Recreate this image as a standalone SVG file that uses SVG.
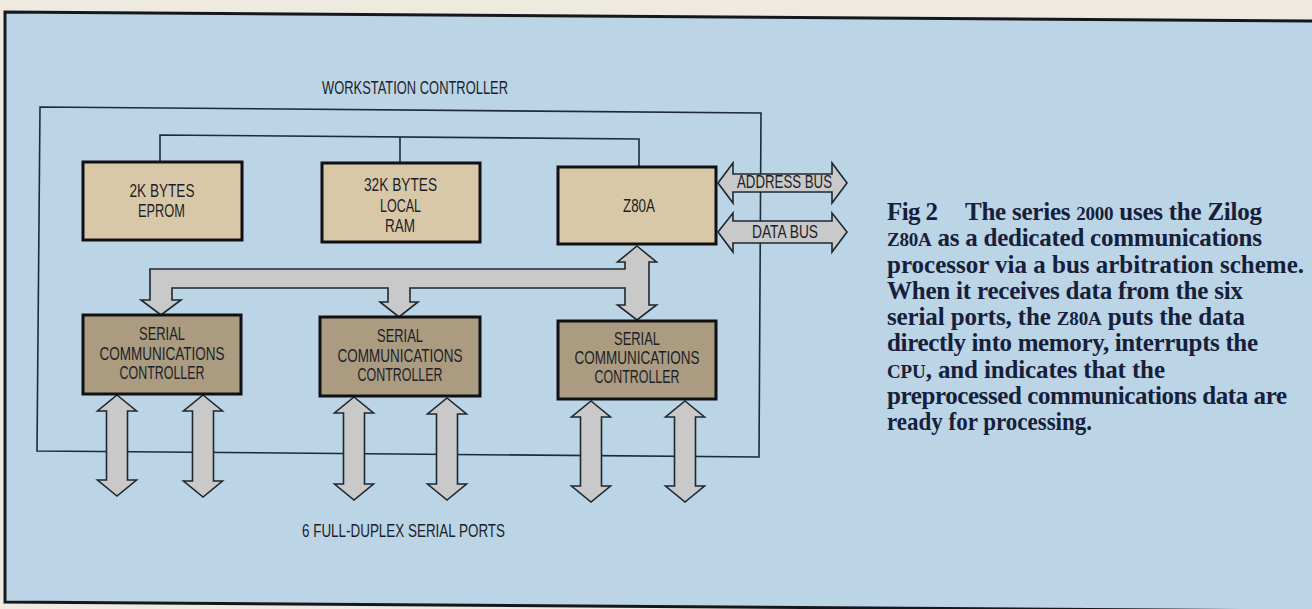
<svg xmlns="http://www.w3.org/2000/svg" width="1312" height="609" viewBox="0 0 1312 609">
  <style>
    .lbl { font-family: "Liberation Sans Narrow", "Liberation Sans", Arial, sans-serif; font-size: 18px; fill: #1c1e28; text-anchor: middle; }
    .cap { font-family: "Liberation Serif", "Times New Roman", serif; font-size: 25px; font-weight: bold; fill: #17203a; }
    .sc { font-size: 19px; }
    .wire { fill: none; stroke: #1d2b38; stroke-width: 1.6; }
    .boxA { fill: #d9c8a8; stroke: #111114; stroke-width: 3; }
    .boxB { fill: #aa9b81; stroke: #111114; stroke-width: 3; }
    .arrow { fill: #c9c9c9; stroke: #1d2830; stroke-width: 1.6; stroke-linejoin: miter; }
  </style>

  <!-- page background -->
  <rect x="0" y="0" width="1312" height="609" fill="#efeadf"/>
  <!-- blue panel -->
  <polygon points="5,12 1312,21 1312,611 5,602" fill="#bbd4e6"/>
  <polyline points="1312,21 5,12 5,602 1312,611" fill="none" stroke="#14181e" stroke-width="3"/>

  <!-- connectors -->
  <g id="connectors">
    <polygon class="wire" points="40,107 761,113 759,457 37,451"/>
    <polyline class="wire" points="160,162 160,135 639,139 639,167"/>
    <line class="wire" x1="400" y1="137" x2="400" y2="163"/>

    <!-- address bus -->
    <polygon class="arrow" points="718,183 733,163 733,174 832,174 832,163 847,183 832,203 832,192 733,192 733,203"/>
    <!-- data bus -->
    <polygon class="arrow" points="718,232 733,213 733,221 832,221 832,213 847,232 832,252 832,243 733,243 733,252"/>

    <!-- internal bus tree from Z80A to the three SCCs -->
    <polygon class="arrow" points="637,246 656.5,262 649,262 649,305 656.5,305 637,320 617.5,305 625,305 625,288 410,288 410,302 418,302 399,317 380,302 388,302 388,288 172,288 172,300 181,300 161,315 141,300 150,300 150,269 625,269 625,262 617.5,262"/>

    <!-- serial port arrows -->
    <polygon class="arrow" points="117,395 136.5,411 127.5,411 127.5,480 136.5,480 117,496 97.5,480 106.5,480 106.5,411 97.5,411"/>
    <polygon class="arrow" points="203,395 222.5,411 213.5,411 213.5,481 222.5,481 203,497 183.5,481 192.5,481 192.5,411 183.5,411"/>
    <polygon class="arrow" points="354,397 373.5,413 364.5,413 364.5,484 373.5,484 354,500 334.5,484 343.5,484 343.5,413 334.5,413"/>
    <polygon class="arrow" points="447,398 466.5,414 457.5,414 457.5,484 466.5,484 447,500 427.5,484 436.5,484 436.5,414 427.5,414"/>
    <polygon class="arrow" points="591,401 610.5,417 601.5,417 601.5,486 610.5,486 591,502 571.5,486 580.5,486 580.5,417 571.5,417"/>
    <polygon class="arrow" points="685,401 704.5,417 695.5,417 695.5,486 704.5,486 685,502 665.5,486 674.5,486 674.5,417 665.5,417"/>
  </g>

  <text class="lbl" x="415" y="94" textLength="186" lengthAdjust="spacingAndGlyphs">WORKSTATION CONTROLLER</text>

  <g id="eprom">
    <rect class="boxA" x="83" y="162" width="159" height="78"/>
    <text class="lbl" x="162" y="197" textLength="65" lengthAdjust="spacingAndGlyphs">2K BYTES</text>
    <text class="lbl" x="161.5" y="217" textLength="47" lengthAdjust="spacingAndGlyphs">EPROM</text>
  </g>

  <g id="ram">
    <rect class="boxA" x="322" y="163" width="158" height="79"/>
    <text class="lbl" x="400.5" y="191" textLength="73" lengthAdjust="spacingAndGlyphs">32K BYTES</text>
    <text class="lbl" x="400.5" y="212" textLength="41" lengthAdjust="spacingAndGlyphs">LOCAL</text>
    <text class="lbl" x="400" y="232" textLength="30" lengthAdjust="spacingAndGlyphs">RAM</text>
  </g>

  <g id="z80a">
    <rect class="boxA" x="558" y="167" width="158" height="77"/>
    <text class="lbl" x="639" y="212" textLength="32" lengthAdjust="spacingAndGlyphs">Z80A</text>
  </g>

  <g id="bus-labels">
    <text class="lbl" x="784.5" y="188" textLength="95" lengthAdjust="spacingAndGlyphs">ADDRESS BUS</text>
    <text class="lbl" x="785" y="238" textLength="66" lengthAdjust="spacingAndGlyphs">DATA BUS</text>
  </g>

  <g id="scc1">
    <rect class="boxB" x="83" y="315" width="158" height="79"/>
    <text class="lbl" x="162" y="340" textLength="46" lengthAdjust="spacingAndGlyphs">SERIAL</text>
    <text class="lbl" x="162" y="360" textLength="125" lengthAdjust="spacingAndGlyphs">COMMUNICATIONS</text>
    <text class="lbl" x="162" y="379" textLength="85" lengthAdjust="spacingAndGlyphs">CONTROLLER</text>
  </g>

  <g id="scc2">
    <rect class="boxB" x="320" y="317" width="160" height="79"/>
    <text class="lbl" x="400" y="342" textLength="46" lengthAdjust="spacingAndGlyphs">SERIAL</text>
    <text class="lbl" x="400" y="362" textLength="125" lengthAdjust="spacingAndGlyphs">COMMUNICATIONS</text>
    <text class="lbl" x="400" y="381" textLength="85" lengthAdjust="spacingAndGlyphs">CONTROLLER</text>
  </g>

  <g id="scc3">
    <rect class="boxB" x="558" y="321" width="158" height="78"/>
    <text class="lbl" x="637" y="345" textLength="46" lengthAdjust="spacingAndGlyphs">SERIAL</text>
    <text class="lbl" x="637" y="364" textLength="125" lengthAdjust="spacingAndGlyphs">COMMUNICATIONS</text>
    <text class="lbl" x="637" y="383" textLength="85" lengthAdjust="spacingAndGlyphs">CONTROLLER</text>
  </g>

  <text class="lbl" x="403.5" y="537" textLength="203" lengthAdjust="spacingAndGlyphs">6 FULL-DUPLEX SERIAL PORTS</text>

  <g id="caption">
    <text class="cap" x="887" y="220" textLength="51" lengthAdjust="spacing">Fig 2</text>
    <text class="cap" x="965" y="220" textLength="297" lengthAdjust="spacing">The series <tspan class="sc">2000</tspan> uses the Zilog</text>
    <text class="cap" x="887" y="246.25" textLength="375" lengthAdjust="spacing"><tspan class="sc">Z80A</tspan> as a dedicated communications</text>
    <text class="cap" x="887" y="272.5" textLength="417" lengthAdjust="spacing">processor via a bus arbitration scheme.</text>
    <text class="cap" x="887" y="298.75" textLength="356" lengthAdjust="spacing">When it receives data from the six</text>
    <text class="cap" x="887" y="325" textLength="358" lengthAdjust="spacing">serial ports, the <tspan class="sc">Z80A</tspan> puts the data</text>
    <text class="cap" x="887" y="351.25" textLength="371" lengthAdjust="spacing">directly into memory, interrupts the</text>
    <text class="cap" x="887" y="377.5" textLength="278" lengthAdjust="spacing"><tspan class="sc">CPU</tspan>, and indicates that the</text>
    <text class="cap" x="887" y="403.75" textLength="400" lengthAdjust="spacing">preprocessed communications data are</text>
    <text class="cap" x="887" y="430" textLength="205" lengthAdjust="spacingAndGlyphs">ready for processing.</text>
  </g>
</svg>
